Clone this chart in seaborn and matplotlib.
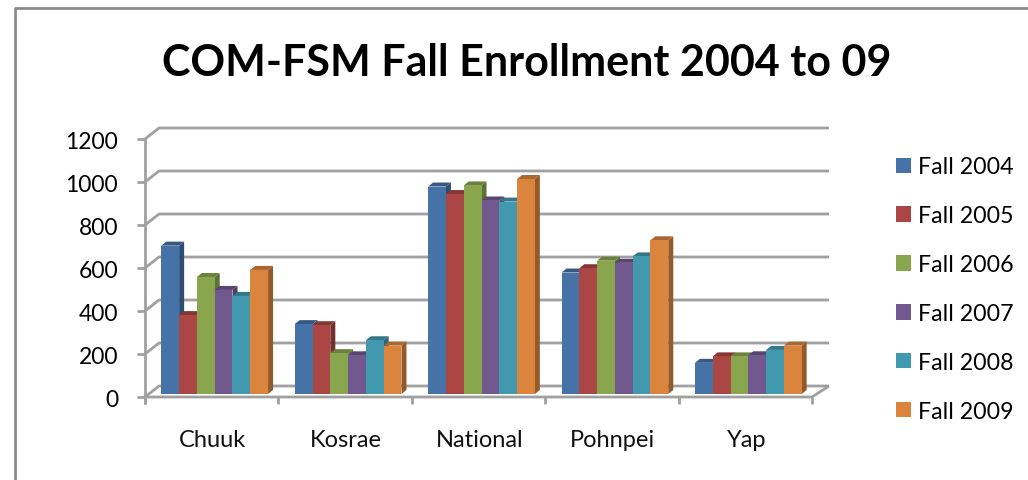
import numpy as np
import pandas as pd
import seaborn as sns
import matplotlib.pyplot as plt
from matplotlib.colors import to_rgb
from matplotlib.patches import Polygon
from matplotlib.transforms import IdentityTransform

campuses = ['Chuuk', 'Kosrae', 'National', 'Pohnpei', 'Yap']
fall_2004 = [690, 325, 965, 565, 145]
fall_2005 = [367, 320, 930, 585, 175]
fall_2006 = [544, 190, 970, 620, 175]
fall_2007 = [484, 180, 900, 610, 180]
fall_2008 = [456, 250, 895, 640, 205]
fall_2009 = [577, 225, 1000, 715, 225]
terms = ['Fall 2004', 'Fall 2005', 'Fall 2006', 'Fall 2007', 'Fall 2008', 'Fall 2009']
colors = ['#4572A7', '#AA4643', '#89A54E', '#71588F', '#4198AF', '#DB843D']
y_ticks = [0, 200, 400, 600, 800, 1000, 1200]

rows = []
for term, vals in zip(terms, [fall_2004, fall_2005, fall_2006, fall_2007, fall_2008, fall_2009]):
    for campus, v in zip(campuses, vals):
        rows.append({'campus': campus, 'term': term, 'students': v})
df = pd.DataFrame(rows)

sns.set_theme(style='white')
plt.rcParams['font.family'] = ['Lato', 'DejaVu Sans']

W, H = 1028, 481
fig = plt.figure(figsize=(W / 100, H / 100), dpi=100)
GRAY = '#a0a0a0'

# px helpers (image coords, y down)
def fx(px):
    return px / W
def fy(py):
    return 1 - py / H

# bars sit on the floor, a little behind the front edge
left, right, base, top = 145, 812, 395, 137
shift = 3
ax = fig.add_axes([fx(left + shift), fy(base), (right - left) / W, (base - top) / H])
sns.barplot(data=df, x='campus', y='students', hue='term', palette=colors, saturation=1,
            width=0.8, ax=ax, legend=True, dodge=True, gap=0, linewidth=0)
ax.set_xlim(-0.5, 4.5)
ax.set_ylim(0, 1200)
ax.patch.set_alpha(0)
for s in ax.spines.values():
    s.set_visible(False)
ax.set_xlabel('')
ax.set_ylabel('')
ax.set_yticks(y_ticks)
ax.set_yticklabels([])
ax.set_xticks(range(len(campuses)))
ax.set_xticklabels([])
ax.tick_params(length=0)
ax.grid(False)

# walls, floor, ticks in pixel coords
bg = fig.add_axes([0, 0, 1, 1], zorder=-1)
bg.set_xlim(0, W)
bg.set_ylim(H, 0)
bg.axis('off')
dx, dy = 14, -11
y0, per_unit = 398, 258 / 1200
lw = 2.0
for v in y_ticks:
    y = y0 - v * per_unit
    bg.plot([left, left + dx, right + dx + 3], [y, y + dy, y + dy], color=GRAY, lw=lw, solid_capstyle='butt')
    bg.plot([left - 8, left], [y, y], color=GRAY, lw=lw, solid_capstyle='butt')
    bg.text(118, y + 2.5, str(v), ha='right', va='center', fontsize=16.5, color='black')
bg.plot([left, left], [y0 + 6, y0 - 1200 * per_unit], color=GRAY, lw=lw)
bg.plot([left, right, right + dx + 3], [y0, y0, y0 + dy], color=GRAY, lw=lw, solid_capstyle='butt')
for i in range(len(campuses) + 1):
    x = left + i * (right - left) / len(campuses)
    bg.plot([x, x], [y0, y0 + 7], color=GRAY, lw=lw, solid_capstyle='butt')
for i, c in enumerate(campuses):
    x = left + (i + 0.5) * (right - left) / len(campuses)
    bg.text(x + 1, 441, c, ha='center', va='center', fontsize=17, color='#111111')

# outer frame of the chart area, only left and top are in the crop
bg.plot([15, 15, W], [H, 9, 9], color='#8c8c8c', lw=2)
bg.text(527, 63, 'COM-FSM Fall Enrollment 2004 to 09', ha='center', va='center',
        fontsize=31, fontweight='bold', color='black')

# 3d look: side and top faces added to each seaborn bar
fig.canvas.draw()
bars = [p for p in ax.patches if p.get_height() > 0]
ddx, ddy = 5, 4
for p in bars:
    (x0, y_b), (x1, y_t) = ax.transData.transform([(p.get_x(), 0), (p.get_x() + p.get_width(), p.get_height())])
    rgb = np.array(to_rgb(p.get_facecolor()))
    z = 2 + p.get_x() * 10
    p.set_zorder(z + 0.02)
    ax.add_patch(Polygon([(x1, y_b), (x1 + ddx, y_b + ddy), (x1 + ddx, y_t + ddy), (x1, y_t)],
                         closed=True, fc=rgb * 0.68, ec='none', transform=IdentityTransform(), zorder=z))
    ax.add_patch(Polygon([(x0, y_t), (x0 + ddx, y_t + ddy), (x1 + ddx, y_t + ddy), (x1, y_t)],
                         closed=True, fc=rgb * 0.78, ec='none', transform=IdentityTransform(), zorder=z + 0.01))

# legend on the right
handles, labels = ax.get_legend_handles_labels()
ax.get_legend().remove()
fig.legend(handles, labels, loc='center left', bbox_to_anchor=(fx(884), fy(290)), frameon=False,
           fontsize=16.7, handlelength=0.65, handleheight=0.65, handletextpad=0.3,
           labelspacing=1.2, borderpad=0, labelcolor='black')

fig.savefig('out.png', dpi=100)
